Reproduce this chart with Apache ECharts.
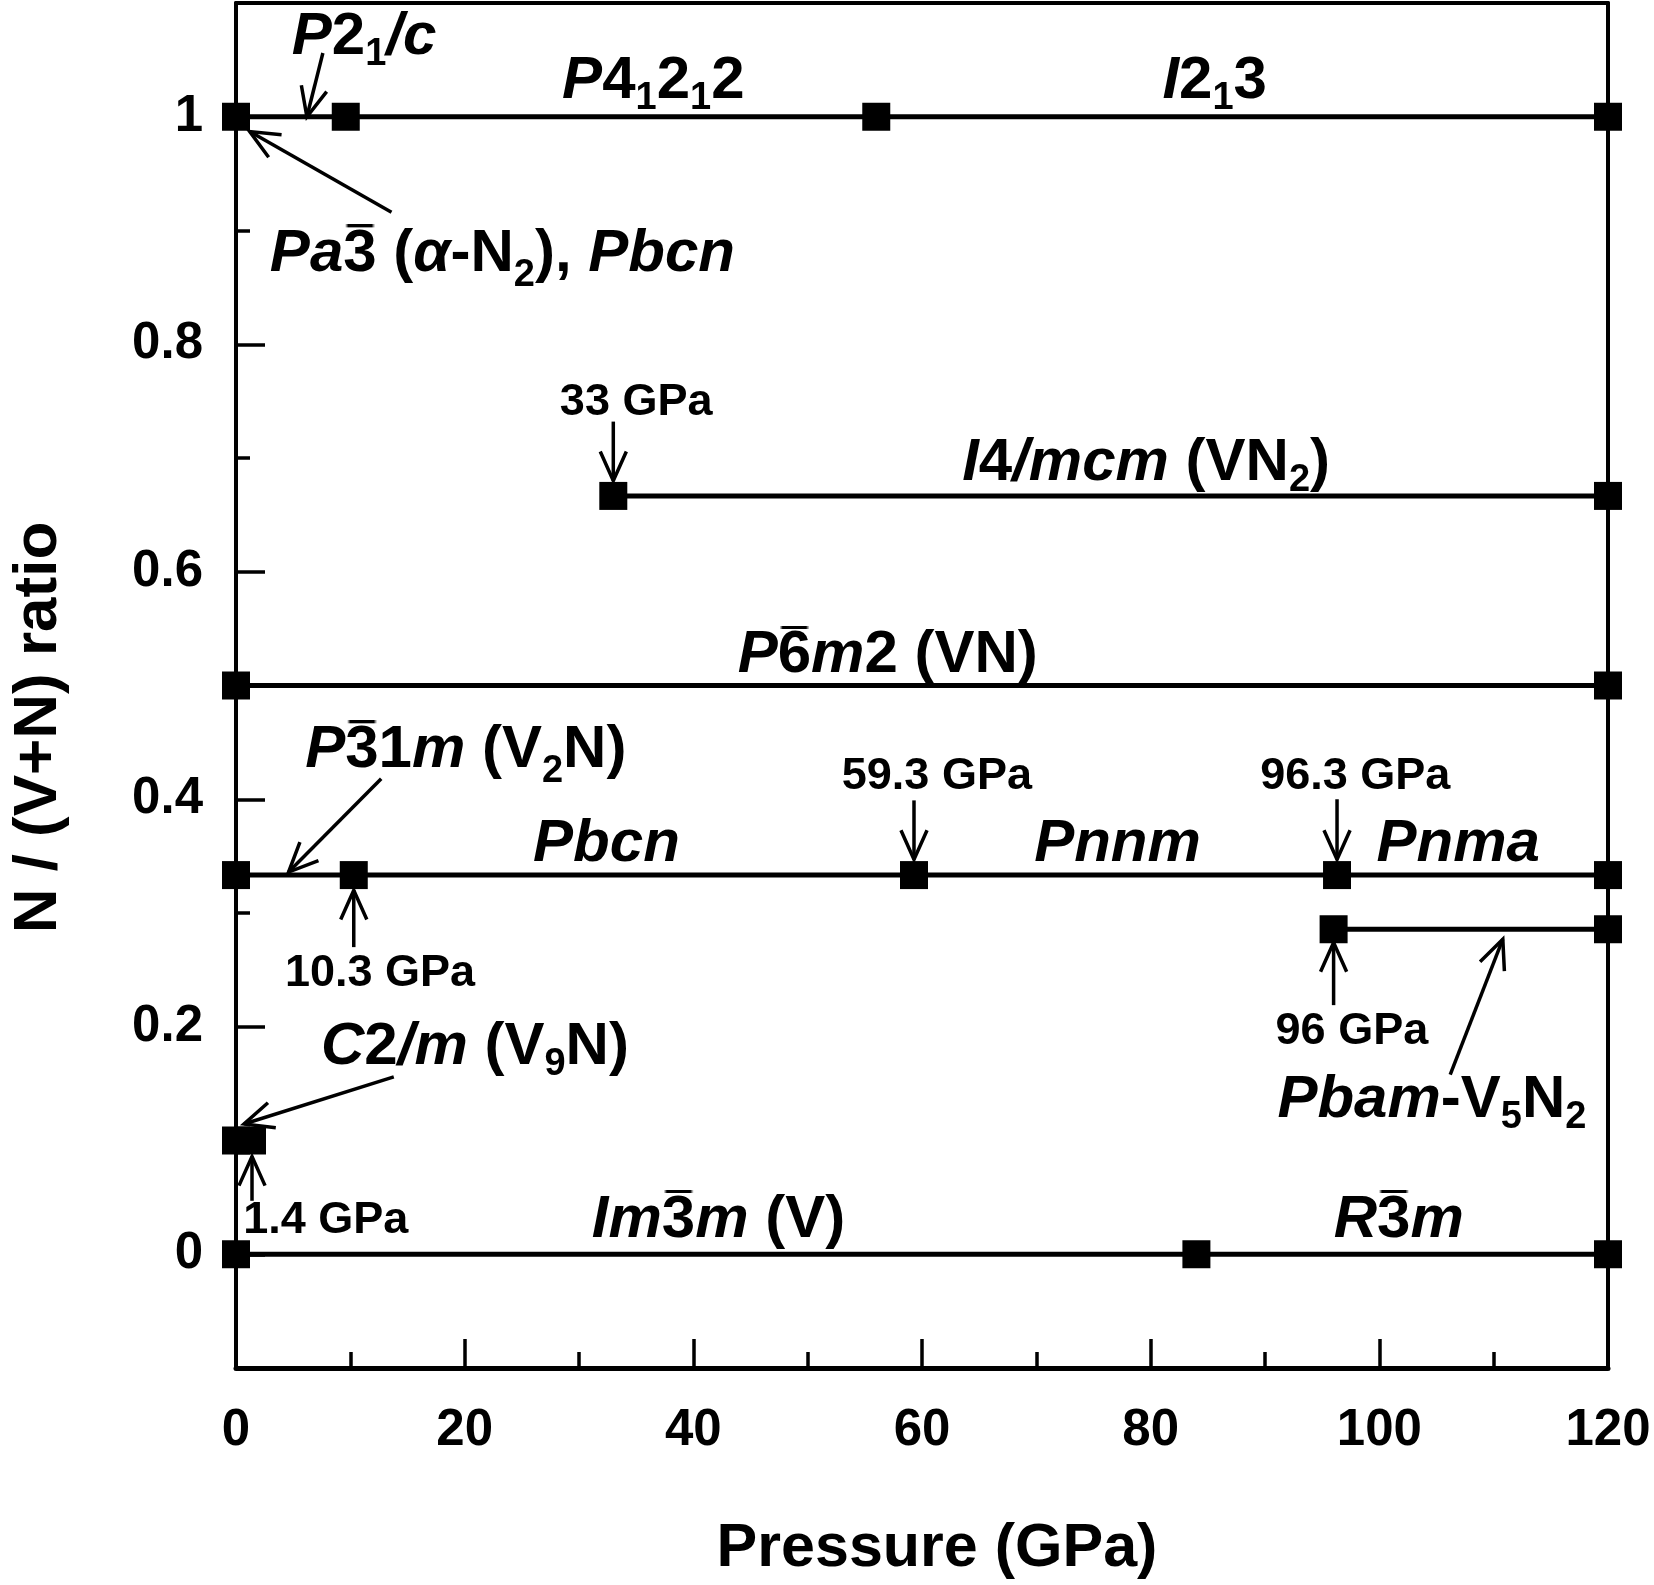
<!DOCTYPE html>
<html><head><meta charset="utf-8">
<script src="https://cdn.jsdelivr.net/npm/echarts@6/dist/echarts.min.js"></script>
<style>html,body{margin:0;padding:0;background:#fff}#c{width:1654px;height:1585px}</style>
</head><body><div id="c"></div>
<script>
const FONT = '"Liberation Sans", Arial, sans-serif';

// Axis ticks
const yTickLabels = [0, 0.2, 0.4, 0.6, 0.8, 1];
const yMinorTicks = [0.1, 0.3, 0.5, 0.7, 0.9];

// N/(V+N) ratio of each composition
const compNames = ['N2', 'VN2', 'VN', 'V2N', 'V5N2', 'V9N', 'V'];
const compRatio = [1, 2/3, 0.5, 1/3, 2/7, 0.1, 0];
// transition / boundary pressures (GPa) for each composition
const pN2   = [0, 9.6, 56, 120];
const pVN2  = [33, 120];
const pVN   = [0, 120];
const pV2N  = [0, 10.3, 59.3, 96.3, 120];
const pV5N2 = [96, 120];
const pV9N  = [0, 1.4];
const pV    = [0, 84, 120];
const compPressures = [pN2, pVN2, pVN, pV2N, pV5N2, pV9N, pV];

// phase labels (rich text; {o|..} = overbarred digit) and anchors in data units
const phaseText = [
  '{i|P}{n|2}{s|1}{i|/c}',
  '{i|P}{n|4}{s|1}{n|2}{s|1}{n|2}',
  '{i|I}{n|2}{s|1}{n|3}',
  '{i|Pa}{o|3}{n| (}{i|\u03b1}{n|-N}{s|2}{n|), }{i|Pbcn}',
  '{i|I}{n|4}{i|/mcm}{n| (VN}{s|2}{n|)}',
  '{i|P}{o|6}{i|m}{n|2 (VN)}',
  '{i|P}{o|3}{n|1}{i|m}{n| (V}{s|2}{n|N)}',
  '{i|Pbcn}',
  '{i|Pnnm}',
  '{i|Pnma}',
  '{i|C}{n|2}{i|/m}{n| (V}{s|9}{n|N)}',
  '{i|Pbam}{n|-V}{s|5}{n|N}{s|2}',
  '{i|Im}{o|3}{i|m}{n| (V)}',
  '{i|R}{o|3}{i|m}'
];
const phaseX = [11.2, 36.5, 85.6, 23.3, 79.6, 57.0, 20.1, 32.4, 77.1, 106.9, 20.9, 104.6, 42.2, 101.7];
const phaseY = [1.070, 1.031, 1.031, 0.879, 0.695, 0.526, 0.443, 0.360, 0.360, 0.360, 0.182, 0.1355, 0.030, 0.030];

// pressure labels
const gpaText = ['33 GPa', '59.3 GPa', '96.3 GPa', '10.3 GPa', '96 GPa', '1.4 GPa'];
const gpaX = [35.0, 61.3, 97.9, 12.6, 97.6, 7.85];
const gpaY = [0.749, 0.420, 0.420, 0.2465, 0.196, 0.030];

// arrows [fromX, fromY, toX, toY]
const arrows = [
  [7.6, 1.056, 6.2, 1.0],
  [13.6, 0.916, 1.2, 0.987],
  [33, 0.732, 33, 0.680],
  [12.7, 0.418, 4.6, 0.336],
  [59.3, 0.399, 59.3, 0.347],
  [10.3, 0.270, 10.3, 0.320],
  [13.8, 0.156, 0.7, 0.1145],
  [1.4, 0.047, 1.4, 0.086],
  [96.3, 0.400, 96.3, 0.347],
  [96, 0.219, 96, 0.274],
  [106.2, 0.158, 110.8, 0.277]
];

// overbar image (narrow so it never widens the token) used as token background
const barCanvas = document.createElement('canvas');
barCanvas.width = 10; barCanvas.height = 80;
(function () {
  const g = barCanvas.getContext('2d');
  g.fillStyle = '#000';
  g.fillRect(1, 0, 8, 4);
})();

const chart = echarts.init(document.getElementById('c'));

const richBig = {
  i: {fontFamily: FONT, fontSize: 60, fontWeight: 'bold', fontStyle: 'italic', color: '#000', lineHeight: 72},
  n: {fontFamily: FONT, fontSize: 60, fontWeight: 'bold', color: '#000', lineHeight: 72},
  o: {fontFamily: FONT, fontSize: 60, fontWeight: 'bold', color: '#000', lineHeight: 80,
      backgroundColor: {image: barCanvas}},
  s: {fontFamily: FONT, fontSize: 38, fontWeight: 'bold', color: '#000', lineHeight: 38, verticalAlign: 'bottom'}
};

function renderArrow(params, api) {
  const a = api.coord([api.value(0), api.value(1)]);
  const b = api.coord([api.value(2), api.value(3)]);
  const ang = Math.atan2(b[1] - a[1], b[0] - a[0]);
  const L = 32, th = 0.42;
  const p1 = [b[0] - L * Math.cos(ang - th), b[1] - L * Math.sin(ang - th)];
  const p2 = [b[0] - L * Math.cos(ang + th), b[1] - L * Math.sin(ang + th)];
  return {
    type: 'group',
    children: [
      {type: 'line', shape: {x1: a[0], y1: a[1], x2: b[0], y2: b[1]}, style: {stroke: '#000', lineWidth: 3.5}},
      {type: 'polyline', shape: {points: [p1, b, p2]}, style: {stroke: '#000', fill: null, lineWidth: 3.5, lineJoin: 'miter'}}
    ]
  };
}

const series = compPressures.map((ps, k) => ({
  name: compNames[k],
  type: 'line',
  data: ps.map(p => [p, compRatio[k]]),
  symbol: 'rect',
  symbolSize: 28,
  showAllSymbol: true,
  clip: false,
  lineStyle: {color: '#000', width: 5},
  itemStyle: {color: '#000', opacity: 1},
  z: 3
}));

series.push({
  type: 'scatter',
  symbolSize: 0,
  silent: true,
  z: 5,
  itemStyle: {opacity: 1},
  data: phaseText.map((t, k) => ({
    value: [phaseX[k], phaseY[k]],
    label: {show: true, position: 'inside', align: 'center', verticalAlign: 'middle', formatter: t, rich: richBig, opacity: 1}
  }))
});

series.push({
  type: 'scatter',
  symbolSize: 0,
  silent: true,
  z: 5,
  itemStyle: {opacity: 1},
  data: gpaText.map((t, k) => ({
    value: [gpaX[k], gpaY[k]],
    label: {show: true, position: 'inside', align: 'center', verticalAlign: 'middle', formatter: t, opacity: 1,
      fontFamily: FONT, fontSize: 45, fontWeight: 'bold', color: '#000'}
  }))
});

series.push({
  type: 'custom',
  renderItem: renderArrow,
  data: arrows,
  encode: {x: [0, 2], y: [1, 3]},
  clip: false,
  silent: true,
  z: 4
});

chart.setOption({
  animation: false,
  backgroundColor: '#fff',
  grid: {left: 233, right: 46, top: 3, bottom: 209, containLabel: false},
  xAxis: [{
    type: 'value', position: 'bottom', min: 0, max: 120, interval: 20,
    name: 'Pressure (GPa)', nameLocation: 'middle', nameGap: 151,
    nameTextStyle: {fontFamily: FONT, fontSize: 61, fontWeight: 'bold', color: '#000', padding: [0, 0, 0, 30]},
    axisLine: {show: true, onZero: false, lineStyle: {color: '#000', width: 5}},
    axisTick: {show: true, inside: true, length: 29, lineStyle: {color: '#000', width: 3.5}},
    minorTick: {show: true, splitNumber: 2, length: 16, lineStyle: {color: '#000', width: 3.5}},
    axisLabel: {fontFamily: FONT, fontSize: 51, fontWeight: 'bold', color: '#000', margin: 37},
    splitLine: {show: false}
  }, {
    type: 'value', position: 'top', min: 0, max: 120,
    axisLine: {show: true, onZero: false, lineStyle: {color: '#000', width: 4}},
    axisTick: {show: false}, axisLabel: {show: false}, splitLine: {show: false}
  }],
  yAxis: [{
    type: 'value', position: 'left', min: -0.1, max: 1.1,
    name: 'N / (V+N) ratio', nameLocation: 'middle', nameGap: 166,
    nameTextStyle: {fontFamily: FONT, fontSize: 62, fontWeight: 'bold', color: '#000', padding: [0, 84, 0, 0]},
    axisLine: {show: true, onZero: false, lineStyle: {color: '#000', width: 4}},
    axisTick: {show: true, inside: true, length: 29, customValues: yTickLabels, lineStyle: {color: '#000', width: 3.5}},
    axisLabel: {customValues: yTickLabels, formatter: v => String(+(+v).toFixed(1)),
      fontFamily: FONT, fontSize: 51, fontWeight: 'bold', color: '#000', margin: 33},
    splitLine: {show: false}
  }, {
    type: 'value', position: 'left', min: -0.1, max: 1.1,
    axisLine: {show: false, onZero: false},
    axisTick: {show: true, inside: true, length: 14, customValues: yMinorTicks, lineStyle: {color: '#000', width: 3.5}},
    axisLabel: {show: false}, splitLine: {show: false}
  }, {
    type: 'value', position: 'right', min: -0.1, max: 1.1,
    axisLine: {show: true, onZero: false, lineStyle: {color: '#000', width: 4}},
    axisTick: {show: false}, axisLabel: {show: false}, splitLine: {show: false}
  }],
  series: series
});
</script></body></html>
